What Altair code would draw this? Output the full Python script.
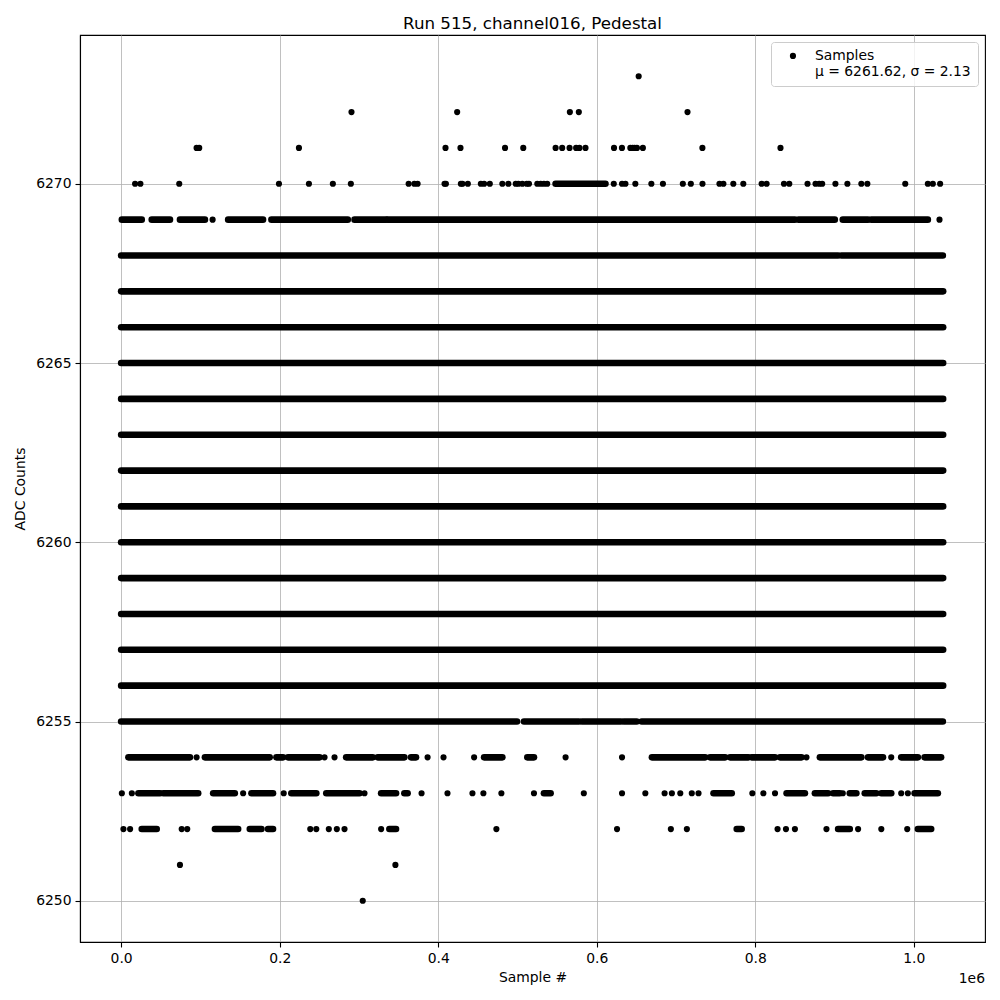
import json
import altair as alt
import pandas as pd

TITLE = "Run 515, channel016, Pedestal"
X_TITLE = "Sample #"
Y_TITLE = "ADC Counts"
X_OFFSET_LABEL = "1e6"
LEGEND_LINES = ["Samples", "μ = 6261.62, σ = 2.13"]
X_TICKS = [0, 200000, 400000, 600000, 800000, 1000000]
Y_TICKS = [6250, 6255, 6260, 6265, 6270]

# Sample positions are given in thousands of samples.
# Rows that are filled with samples over a whole stretch are given as runs (start, end).
FULL_ROWS = [6256, 6257, 6258, 6259, 6260, 6261, 6262, 6263, 6264, 6265, 6266, 6267]
FULL_RUN = (0.0, 1037.0)

R_6268 = [(0.0, 904.5), (908.7, 1036.6)]
R_6255 = [(0.0, 499.4), (508.2, 577.4), (581.2, 630.3), (634.0, 650.4), (656.7, 1036.6)]
R_6269 = [(0.9, 26.0), (38.6, 61.6), (74.2, 105.7), (135.0, 179.0), (189.6, 285.9),
          (294.4, 334.2), (336.3, 850.0), (854.6, 900.3), (910.4, 942.2), (946.4, 1017.7)]
R_6270 = [(548.1, 611.0)]
R_6254 = [(9.2, 86.8), (105.7, 187.4), (195.9, 204.2), (210.5, 250.3), (283.9, 317.4),
          (323.7, 357.3), (365.7, 372.0), (457.9, 480.9), (512.4, 520.8), (669.6, 736.8),
          (743.0, 762.0), (768.2, 791.3), (795.4, 824.9), (831.2, 858.3), (881.5, 933.8),
          (942.2, 961.1), (984.1, 1005.1), (1013.6, 1034.4)]
R_6253 = [(21.8, 49.1), (53.2, 97.2), (116.1, 143.4), (164.4, 191.6), (214.7, 246.2),
          (258.8, 300.7), (328.0, 346.8), (357.3, 361.4), (533.4, 541.8), (747.3, 770.3),
          (839.5, 862.6), (875.2, 891.9), (898.2, 906.6), (919.2, 927.5), (938.1, 952.7),
          (959.0, 971.5), (1001.0, 1030.3)]
R_6252 = [(26.0, 44.9), (118.3, 147.6), (162.3, 177.0), (185.3, 191.6), (338.4, 346.8),
          (776.6, 782.8), (904.5, 919.2), (1005.1, 1021.9)]

# Isolated samples
P_6273 = [652.9]
P_6272 = [290.6, 423.9, 566.1, 577.4, 714.5]
P_6271 = [95.2, 98.5, 224.3, 409.2, 428.1, 484.3, 507.3, 548.1, 556.4, 565.7, 574.0, 578.2,
          585.8, 621.8, 631.8, 642.4, 645.3, 647.8, 650.7, 658.2, 733.3, 831.8]
P_6270 = [17.6, 24.3, 73.3, 199.1, 236.9, 267.1, 289.8, 362.7, 369.9, 374.0, 408.0, 409.7,
          428.6, 430.6, 437.4, 453.8, 457.9, 465.1, 480.9, 488.5, 497.8, 501.1, 506.1, 511.7,
          514.5, 525.0, 529.3, 533.4, 537.5, 621.5, 631.9, 636.2, 648.7, 668.9, 683.5, 708.6,
          718.7, 733.4, 754.8, 759.8, 772.3, 784.9, 808.0, 814.3, 836.2, 842.9, 865.9, 876.0,
          880.6, 884.4, 901.1, 916.2, 933.8, 941.4, 989.2, 1017.7, 1024.0, 1033.2]
P_6269 = [115.4, 1032.4]
P_6254 = [95.2, 256.6, 269.2, 386.6, 406.7, 445.3, 560.7, 631.9, 864.6, 971.5]
P_6253 = [0.9, 13.5, 153.9, 205.1, 307.0, 379.0, 411.7, 443.2, 457.0, 479.7, 520.8, 583.7,
          631.9, 661.3, 685.6, 694.8, 705.4, 719.9, 728.4, 796.3, 810.2, 824.9, 910.4, 984.1,
          992.5]
P_6252 = [2.9, 11.3, 76.4, 83.4, 238.6, 246.2, 262.0, 272.1, 281.8, 328.0, 473.4, 625.6,
          693.5, 713.7, 828.1, 838.7, 850.0, 889.8, 929.7, 959.0, 991.7]
P_6251 = [74.2, 346.0]
P_6250 = [304.8]

RUNS = {6268: R_6268, 6255: R_6255, 6269: R_6269, 6270: R_6270,
        6254: R_6254, 6253: R_6253, 6252: R_6252}
POINTS = {6273: P_6273, 6272: P_6272, 6271: P_6271, 6270: P_6270, 6269: P_6269,
          6254: P_6254, 6253: P_6253, 6252: P_6252, 6251: P_6251, 6250: P_6250}

run_rows = [dict(adc=a, start=FULL_RUN[0] * 1000, end=FULL_RUN[1] * 1000) for a in FULL_ROWS]
for a, runs in RUNS.items():
    for s, e in runs:
        run_rows.append(dict(adc=a, start=s * 1000, end=e * 1000))
runs_df = pd.DataFrame(run_rows)

pt_rows = []
for a, xs_ in POINTS.items():
    for s in xs_:
        pt_rows.append(dict(adc=a, sample=s * 1000, series="Samples"))
points_df = pd.DataFrame(pt_rows)

FONT = "DejaVu Sans"
xs = alt.Scale(domain=[-51900, 1089800], nice=False, zero=False)
ys = alt.Scale(domain=[6248.85, 6274.15], nice=False, zero=False)

x_axis = alt.Axis(title=X_TITLE, values=X_TICKS, labelExpr="format(datum.value / 1e6, '.1f')",
                  grid=True, gridColor="#b0b0b0", gridWidth=0.8,
                  domain=True, domainColor="black", domainWidth=1.1,
                  ticks=True, tickColor="black", tickSize=5, tickWidth=1.1,
                  labelFont=FONT, labelFontSize=13.9, labelColor="black", labelPadding=4,
                  titleFont=FONT, titleFontSize=13.9, titleFontWeight="normal",
                  titleColor="black", titlePadding=6, labelFlush=False)
y_axis = alt.Axis(title=Y_TITLE, values=Y_TICKS, format="d",
                  grid=True, gridColor="#b0b0b0", gridWidth=0.8,
                  domain=True, domainColor="black", domainWidth=1.1,
                  ticks=True, tickColor="black", tickSize=5, tickWidth=1.1,
                  labelFont=FONT, labelFontSize=13.9, labelColor="black", labelPadding=4,
                  titleFont=FONT, titleFontSize=13.9, titleFontWeight="normal",
                  titleColor="black", titlePadding=8, labelFlush=False)

rules = alt.Chart(runs_df).mark_rule(strokeCap="round", strokeWidth=6.6, color="black").encode(
    x=alt.X("start:Q", scale=xs, axis=x_axis),
    x2="end:Q",
    y=alt.Y("adc:Q", scale=ys, axis=y_axis),
)

legend_expr = json.dumps(LEGEND_LINES, ensure_ascii=False)
dots = alt.Chart(points_df).mark_circle(size=38, opacity=1).encode(
    x=alt.X("sample:Q", scale=xs, axis=x_axis),
    y=alt.Y("adc:Q", scale=ys, axis=y_axis),
    color=alt.Color("series:N", scale=alt.Scale(range=["black"]),
                    legend=alt.Legend(title=None, orient="none", legendX=691, legendY=7,
                                      labelExpr=legend_expr, labelFont=FONT,
                                      labelFontSize=13.9, labelColor="black", labelLimit=400,
                                      symbolType="circle", symbolSize=38, symbolStrokeWidth=0,
                                      symbolOpacity=1, symbolOffset=8, labelOffset=15,
                                      padding=7, cornerRadius=3, strokeColor="#cccccc",
                                      fillColor="rgba(255,255,255,0.8)")),
)

offset_text = alt.Chart(pd.DataFrame({"label": [X_OFFSET_LABEL]})).mark_text(
    align="right", baseline="middle", font=FONT, fontSize=13.9, color="black"
).encode(x=alt.value(905), y=alt.value(944), text="label:N")

chart = alt.layer(rules, dots, offset_text).properties(
    width=905, height=907,
    title=alt.TitleParams(TITLE, font=FONT, fontSize=16.7, fontWeight="normal",
                          anchor="middle", offset=2, color="black"),
    autosize=alt.AutoSizeParams(type="none"),
    padding={"left": 72, "top": 27, "right": 7, "bottom": 50},
).configure_view(stroke="black", strokeWidth=1.1)

chart.save("out.html", embed_options={"renderer": "svg", "actions": False})
